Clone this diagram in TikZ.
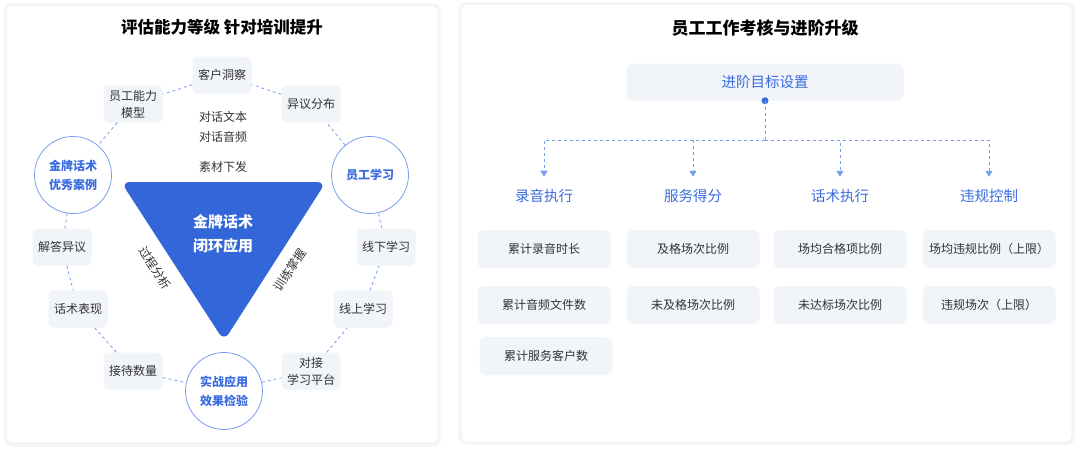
\documentclass[tikz,border=0pt]{standalone}
\usepackage{fontspec}
\setmainfont{Noto Sans CJK SC}
\usetikzlibrary{arrows.meta, positioning, calc}
\definecolor{mainBlue}{HTML}{3366D9}
\definecolor{textBlue}{HTML}{3A6CE0}
\definecolor{lineBlue}{HTML}{7A9DF0}
\definecolor{boxGray}{HTML}{F1F4F9}
\definecolor{mainBlack}{HTML}{333333}

\begin{document}
\begin{tikzpicture}[x=1pt, y=-1pt, >=Stealth,
    panel/.style={fill=white, draw=black!6, line width=1pt, rounded corners=6pt},
    itemBox/.style={fill=boxGray, rounded corners=5pt, minimum width=59pt, minimum height=37pt, inner sep=0pt, text=mainBlack, align=center, font=\fontsize{12}{17}\selectfont},
    ringCircle/.style={circle, fill=white, draw=lineBlue, line width=0.8pt, minimum size=77pt, inner sep=0pt, text=textBlue, align=center, font=\fontsize{12}{19}\selectfont\bfseries},
    ringLine/.style={draw=lineBlue, line width=0.8pt, dash pattern=on 3pt off 3pt},
    plainText/.style={text=mainBlack, align=center, font=\fontsize{12}{20}\selectfont},
    metricBox/.style={fill=boxGray, rounded corners=6pt, minimum width=133pt, minimum height=38pt, inner sep=0pt, text=mainBlack, font=\fontsize{12}{14}\selectfont},
    goalLabel/.style={text=textBlue, font=\fontsize{14.5}{17}\selectfont}
]
    \useasboundingbox (0,0) rectangle (1080,450);
    \fill[white] (0,0) rectangle (1080,450);

    % panels
    \fill[black!3, rounded corners=8pt] (4,3) rectangle (441,447);
    \fill[black!3, rounded corners=8pt] (458,2) rectangle (1075,445);
    \draw[panel] (6,5) rectangle (438,443);
    \draw[panel] (461,4) rectangle (1072,442);

    % left panel
    \node[text=black, font=\fontsize{16.5}{20}\selectfont\bfseries] (titleL) at (222,27) {评估能力等级 针对培训提升};

    \node[itemBox] (kehu) at (222,75) {客户洞察};
    \node[itemBox] (nengli) at (133,104) {员工能力\\模型};
    \node[itemBox] (yiyi) at (311,104) {异议分布};
    \node[ringCircle] (jinpai) at (73,175) {金牌话术\\优秀案例};
    \node[ringCircle] (xuexi) at (370,175) {员工学习};
    \node[itemBox] (jieda) at (62,247) {解答异议};
    \node[itemBox] (biaoxian) at (78,309) {话术表现};
    \node[itemBox] (jiedai) at (133,371) {接待数量};
    \node[ringCircle] (shizhan) at (224,391) {实战应用\\效果检验};
    \node[itemBox] (duijie) at (311,371) {对接\\学习平台};
    \node[itemBox] (xianshang) at (363,309) {线上学习};
    \node[itemBox] (xianxia) at (386,247) {线下学习};

    \draw[ringLine] (kehu) -- (nengli);
    \draw[ringLine] (nengli) -- (jinpai);
    \draw[ringLine] (jinpai) -- (jieda);
    \draw[ringLine] (jieda) -- (biaoxian);
    \draw[ringLine] (biaoxian) -- (jiedai);
    \draw[ringLine] (jiedai) -- (shizhan);
    \draw[ringLine] (shizhan) -- (duijie);
    \draw[ringLine] (duijie) -- (xianshang);
    \draw[ringLine] (xianshang) -- (xianxia);
    \draw[ringLine] (xianxia) -- (xuexi);
    \draw[ringLine] (xuexi) -- (yiyi);
    \draw[ringLine] (yiyi) -- (kehu);

    \node[plainText] (duihua) at (223,127) {对话文本\\对话音频};
    \node[plainText] (sucai) at (223,167) {素材下发};

    \fill[mainBlue, rounded corners=9pt] (121,182) -- (326,182) -- (224,341) -- cycle;
    \node[text=white, align=center, font=\fontsize{15}{24}\selectfont\bfseries] (core) at (223,234) {金牌话术\\闭环应用};
    \node[plainText, rotate=-57] (guocheng) at (155,268) {过程分析};
    \node[plainText, rotate=57] (xunlian) at (290,270) {训练掌握};

    % right panel
    \node[text=black, font=\fontsize{17}{20}\selectfont\bfseries] (titleR) at (765,28) {员工工作考核与进阶升级};

    \node[fill=boxGray, rounded corners=6pt, minimum width=277pt, minimum height=37pt, text=textBlue, font=\fontsize{14.5}{17}\selectfont] (goal) at (765,82) {进阶目标设置};
    \fill[textBlue] (goal.south) circle (3.5);
    \coordinate (hub) at (765,140);

    \node[goalLabel] (luyin) at (544,196) {录音执行};
    \node[goalLabel] (fuwu) at (693,196) {服务得分};
    \node[goalLabel] (huashu) at (840,196) {话术执行};
    \node[goalLabel] (weigui) at (989,196) {违规控制};

    \draw[ringLine] (goal.south) -- (hub);
    \foreach \n in {luyin, fuwu, huashu, weigui}
        \draw[ringLine, -{Triangle[width=7pt, length=6pt]}] (hub) -| ($(\n.north)+(0,-9)$);

    \node[metricBox] (m11) at (544,249) {累计录音时长};
    \node[metricBox] (m12) at (544,305) {累计音频文件数};
    \node[metricBox] (m13) at (546,356) {累计服务客户数};
    \node[metricBox] (m21) at (693,249) {及格场次比例};
    \node[metricBox] (m22) at (693,305) {未及格场次比例};
    \node[metricBox] (m31) at (840,249) {场均合格项比例};
    \node[metricBox] (m32) at (840,305) {未达标场次比例};
    \node[metricBox] (m41) at (989,249) {场均违规比例（上限）};
    \node[metricBox] (m42) at (989,305) {违规场次（上限）};
\end{tikzpicture}
\end{document}
